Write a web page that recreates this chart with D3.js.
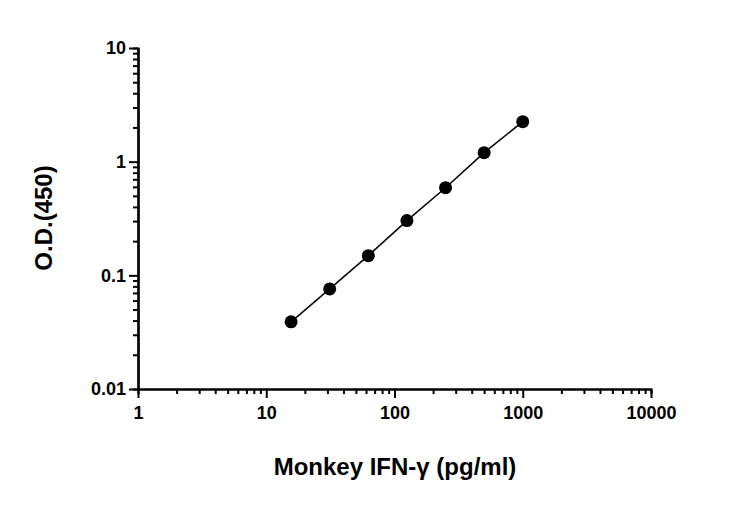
<!DOCTYPE html>
<html><head><meta charset="utf-8">
<script src="https://cdn.jsdelivr.net/npm/d3@7"></script>
<style>body{margin:0;background:#fff}text{font-family:"Liberation Sans",Arial,sans-serif;font-weight:bold}</style>
</head><body><svg id="c" width="732" height="507"></svg>
<script>
const concentrations=[15.625,31.25,62.5,125,250,500,1000];
const odValues=[0.039,0.076,0.149,0.303,0.59,1.2,2.25];
const xTickLabels=[1,10,100,1000,10000];
const yTickLabels=[0.01,0.1,1,10];
const svg=d3.select("#c");
const x=d3.scaleLog().domain([1,10000]).range([138,651]);
const y=d3.scaleLog().domain([0.01,10]).range([389,48]);
const fmt=d=>String(d);
const xMinor=[],yMinor=[];
for(let e=0;e<4;e++)for(let m=2;m<10;m++)xMinor.push(m*Math.pow(10,e));
for(let e=-2;e<1;e++)for(let m=2;m<10;m++)yMinor.push(+(m*Math.pow(10,e)).toPrecision(3));
const gx=svg.append("g").attr("transform","translate(0,389)");
gx.append("g").call(d3.axisBottom(x).tickValues(xMinor).tickSize(5).tickFormat(""));
const gxM=gx.append("g").call(d3.axisBottom(x).tickValues(xTickLabels).tickSize(9).tickFormat(fmt).tickSizeOuter(0));
const gy=svg.append("g").attr("transform","translate(138,0)");
gy.append("g").call(d3.axisLeft(y).tickValues(yMinor).tickSize(5).tickFormat(""));
const gyM=gy.append("g").call(d3.axisLeft(y).tickValues(yTickLabels).tickSize(9).tickFormat(fmt).tickSizeOuter(0));
svg.selectAll(".domain").attr("stroke","#000").attr("stroke-width",2.2);
svg.selectAll(".tick line").attr("stroke","#000").attr("stroke-width",2);
gxM.selectAll("text").style("font-size","18px").attr("dy","1.0em").attr("fill","#000");
gyM.selectAll("text").style("font-size","18px").attr("fill","#000");
const pts=concentrations.map((c,i)=>[c,odValues[i]]);
svg.append("path").datum(pts).attr("fill","none").attr("stroke","#000").attr("stroke-width",1.5)
 .attr("d",d3.line().x(d=>x(d[0])).y(d=>y(d[1])));
svg.selectAll("circle").data(pts).join("circle").attr("cx",d=>x(d[0])).attr("cy",d=>y(d[1])).attr("r",6.5).attr("fill","#000");
svg.append("text").attr("x",395).attr("y",475).attr("text-anchor","middle").style("font-size","24px").text("Monkey IFN-γ (pg/ml)");
svg.append("text").attr("transform","translate(52,218) rotate(-90)").attr("text-anchor","middle").style("font-size","24px").text("O.D.(450)");
</script></body></html>
